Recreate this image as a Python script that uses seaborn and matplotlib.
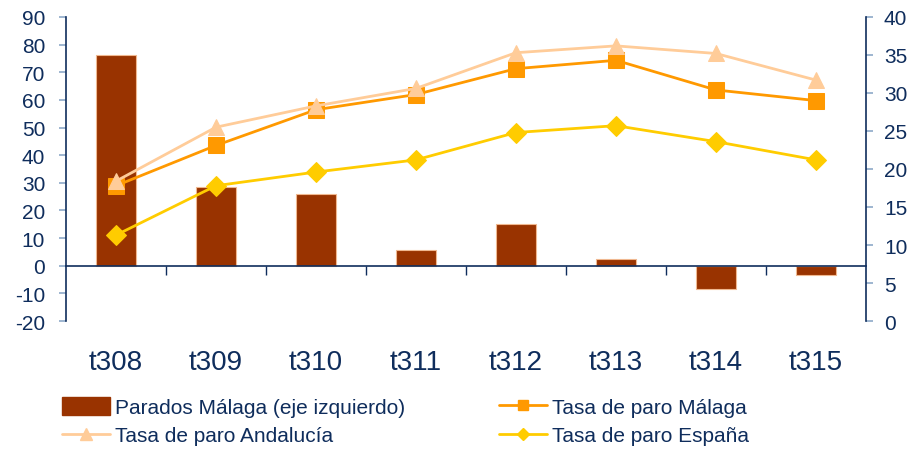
import numpy as np
import pandas as pd
import seaborn as sns
import matplotlib.pyplot as plt
from matplotlib.patches import Patch
from matplotlib.lines import Line2D

periodos = ['t308', 't309', 't310', 't311', 't312', 't313', 't314', 't315']
parados_malaga = [76.3, 28.6, 26.0, 5.6, 15.0, 2.6, -8.6, -3.2]
tasa_malaga = [17.8, 23.1, 27.8, 29.8, 33.2, 34.3, 30.4, 29.0]
tasa_andalucia = [18.4, 25.5, 28.3, 30.6, 35.3, 36.2, 35.2, 31.7]
tasa_espana = [11.3, 17.8, 19.6, 21.2, 24.8, 25.7, 23.6, 21.2]

navy = '#0f2d5c'
c_bar = '#993300'
c_mal = '#ff9900'
c_and = '#ffcc99'
c_esp = '#ffcc00'

sns.set_style('white')
plt.rcParams['font.family'] = ['Liberation Sans', 'DejaVu Sans']
plt.rcParams['axes.unicode_minus'] = False

df = pd.DataFrame({'periodo': periodos, 'parados': parados_malaga,
                   'malaga': tasa_malaga, 'andalucia': tasa_andalucia, 'espana': tasa_espana})

fig = plt.figure(figsize=(9.1, 4.52), dpi=100)
ax = fig.add_axes([0.0725, 0.2876, 0.879, 0.6726])

sns.barplot(data=df, x='periodo', y='parados', color=c_bar, width=0.4, saturation=1,
            edgecolor='#f0b890', linewidth=0.8, ax=ax)
ax.set_ylim(-20, 90)
ax.set_yticks(range(-20, 91, 10))
ax.set_xlim(-0.5, 7.5)
ax.set_xlabel('')
ax.set_ylabel('')

ax2 = ax.twinx()
xs = np.arange(len(periodos))
sns.lineplot(x=xs, y=df['malaga'], ax=ax2, color=c_mal, lw=2, marker='s', markersize=11,
             markeredgecolor=c_mal, zorder=3)
sns.lineplot(x=xs, y=df['andalucia'], ax=ax2, color=c_and, lw=2, marker='^', markersize=12,
             markeredgecolor=c_and, zorder=4)
sns.lineplot(x=xs, y=df['espana'], ax=ax2, color=c_esp, lw=2, marker='D', markersize=10,
             markeredgecolor=c_esp, zorder=3)
ax2.set_ylim(0, 40)
ax2.set_yticks(range(0, 41, 5))
ax2.set_xlim(-0.5, 7.5)
ax2.set_ylabel('')

# zero line with category separators
for a in (ax, ax2):
    a.spines['top'].set_visible(False)
ax.spines['bottom'].set_position(('data', 0))
ax.spines['bottom'].set_color(navy)
ax.spines['bottom'].set_linewidth(1.2)
ax2.spines['bottom'].set_visible(False)
ax.spines['left'].set_color(navy)
ax.spines['left'].set_linewidth(1.2)
ax.spines['right'].set_visible(False)
ax2.spines['left'].set_visible(False)
ax2.spines['right'].set_color(navy)
ax2.spines['right'].set_linewidth(1.2)

ax.set_xticks(xs)
ax.set_xticklabels(periodos)
ax.set_xticks(np.arange(0.5, 7.5, 1), minor=True)
ax.tick_params(axis='x', which='major', length=0, pad=60, labelsize=20, labelcolor=navy)
ax.tick_params(axis='x', which='minor', length=6.5, width=1, color=navy, direction='out', bottom=True)
ax.tick_params(axis='y', length=5, width=1.2, color='#8ea9c8', labelsize=15, labelcolor=navy,
               left=True, pad=10)
ax2.tick_params(axis='y', length=5, width=1.2, color='#8ea9c8', labelsize=15, labelcolor=navy,
                right=True, pad=8)
ax2.tick_params(axis='x', bottom=False, labelbottom=False)

handles = [Patch(facecolor=c_bar, edgecolor=c_bar),
           Line2D([], [], color=c_and, lw=2, marker='^', markersize=8),
           Line2D([], [], color=c_mal, lw=2, marker='s', markersize=7),
           Line2D([], [], color=c_esp, lw=2, marker='D', markersize=6)]
labels = ['Parados Málaga (eje izquierdo)', 'Tasa de paro Andalucía',
          'Tasa de paro Málaga', 'Tasa de paro España']
leg = fig.legend(handles, labels, ncol=2, loc='lower left', bbox_to_anchor=(0.052, -0.02),
                 frameon=False, fontsize=15, handlelength=2.3, handleheight=0.9,
                 handletextpad=0.25, columnspacing=4.5, labelspacing=0.4, borderpad=0.2)
for t in leg.get_texts():
    t.set_color(navy)

fig.savefig('out.png', dpi=100)
